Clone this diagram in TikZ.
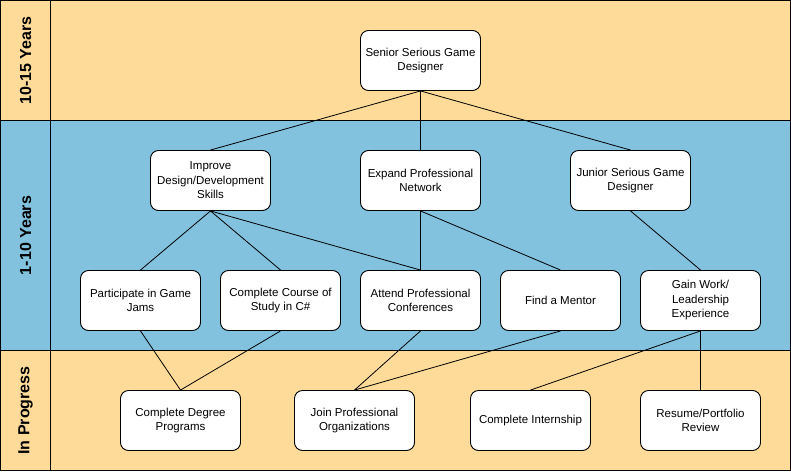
\documentclass[tikz,border=0pt]{standalone}
\usepackage{fontspec}
\setmainfont{Liberation Sans}
\usetikzlibrary{calc}
\definecolor{bandyellow}{RGB}{254,219,152}
\definecolor{bandblue}{RGB}{130,194,223}
\tikzset{
	stepbox/.style={draw=black, fill=white, line width=0.9pt, rounded corners=8pt,
		minimum width=120pt, minimum height=60pt, align=center,
		font=\fontsize{11.5}{14.5}\selectfont},
	bandlabel/.style={rotate=90, font=\fontsize{16}{18}\selectfont\bfseries},
	link/.style={line width=0.8pt}
}
\begin{document}
\begin{tikzpicture}[x=1pt, y=-1pt]
		%%%%% START %%%%%
		\useasboundingbox (-0.5, -0.5) rectangle (790.5, 470.5);
		
		\draw[fill=bandyellow, line width=1pt] (0, 0) rectangle (790, 120);
		\draw[fill=bandblue, line width=1pt] (0, 120) rectangle (790, 350);
		\draw[fill=bandyellow, line width=1pt] (0, 350) rectangle (790, 470);
		\draw[line width=1pt] (50, 0) -- (50, 470);
		
		\node[bandlabel] (lblTop) at (25, 60) {10-15 Years};
		\node[bandlabel] (lblMid) at (25, 235) {1-10 Years};
		\node[bandlabel] (lblLow) at (25, 410) {In Progress};
		
		\node[stepbox] (senior) at (420, 60) {Senior Serious Game\\Designer};
		
		\node[stepbox] (improve) at (210, 180) {Improve\\Design/Development\\Skills};
		\node[stepbox] (expand) at (420, 180) {Expand Professional\\Network};
		\node[stepbox] (junior) at (630, 180) {Junior Serious Game\\Designer};
		
		\node[stepbox] (jams) at (140, 300) {Participate in Game\\Jams};
		\node[stepbox] (course) at (280, 300) {Complete Course of\\Study in C\#};
		\node[stepbox] (attend) at (420, 300) {Attend Professional\\Conferences};
		\node[stepbox] (mentor) at (560, 300) {Find a Mentor};
		\node[stepbox] (gain) at (700, 300) {Gain Work/\\Leadership\\Experience};
		
		\node[stepbox] (degree) at (180, 420) {Complete Degree\\Programs};
		\node[stepbox] (join) at (354, 420) {Join Professional\\Organizations};
		\node[stepbox] (intern) at (530, 420) {Complete Internship};
		\node[stepbox] (resume) at (700, 420) {Resume/Portfolio\\Review};
		
		\draw[link] (senior.south) -- (improve.north);
		\draw[link] (senior.south) -- (expand.north);
		\draw[link] (senior.south) -- (junior.north);
		
		\draw[link] (improve.south) -- (jams.north);
		\draw[link] (improve.south) -- (course.north);
		\draw[link] (improve.south) -- (attend.north);
		\draw[link] (expand.south) -- (attend.north);
		\draw[link] (expand.south) -- (mentor.north);
		\draw[link] (junior.south) -- (gain.north);
		
		\draw[link] (jams.south) -- (degree.north);
		\draw[link] (course.south) -- (degree.north);
		\draw[link] (attend.south) -- (join.north);
		\draw[link] (mentor.south) -- (join.north);
		\draw[link] (gain.south) -- (intern.north);
		\draw[link] (gain.south) -- (resume.north);
		
		%%%%% END %%%%%
	\end{tikzpicture}
\end{document}
